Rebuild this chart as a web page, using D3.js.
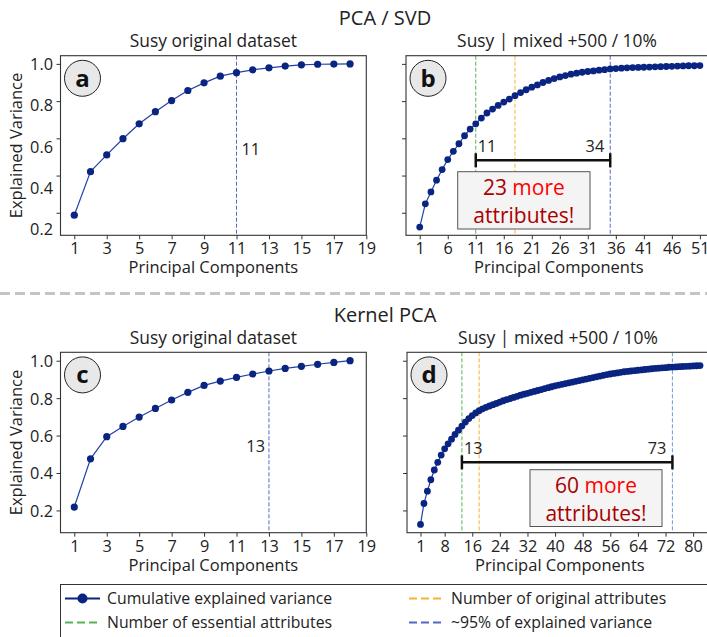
<!DOCTYPE html>
<html>
<head>
<meta charset="utf-8">
<script src="https://cdn.jsdelivr.net/npm/d3@7"></script>
<style>
  body { margin: 0; background: #fff; }
  svg text { font-family: "Open Sans", "DejaVu Sans", sans-serif; fill: #222; }
</style>
</head>
<body>
<div id="chart"></div>
<script>

// cumulative explained variance, one value per principal component
var pcaOriginal = [0.187, 0.421, 0.511, 0.598, 0.678, 0.743, 0.803, 0.857, 0.898, 0.934,
                   0.953, 0.968, 0.979, 0.988, 0.995, 0.998, 0.999, 1.000];

var pcaMixed = [0.123, 0.248, 0.312, 0.375, 0.432, 0.486, 0.530, 0.571, 0.614, 0.650,
                0.678, 0.709, 0.736, 0.757, 0.777, 0.795, 0.811, 0.829, 0.846, 0.861,
                0.875, 0.887, 0.900, 0.911, 0.921, 0.930, 0.937, 0.945, 0.950, 0.955,
                0.959, 0.962, 0.966, 0.969, 0.973, 0.975, 0.977, 0.979, 0.980, 0.981,
                0.982, 0.983, 0.984, 0.985, 0.986, 0.987, 0.988, 0.989, 0.990, 0.990,
                0.991];

var kpcaOriginal = [0.218, 0.476, 0.594, 0.649, 0.699, 0.745, 0.790, 0.831, 0.868, 0.891,
                    0.911, 0.929, 0.945, 0.959, 0.970, 0.981, 0.991, 1.000];

var kpcaMixed = [0.125, 0.237, 0.303, 0.364, 0.416, 0.457, 0.496, 0.529, 0.556, 0.581,
                 0.606, 0.629, 0.651, 0.672, 0.691, 0.707, 0.721, 0.733, 0.743, 0.751,
                 0.758, 0.765, 0.772, 0.779, 0.786, 0.792, 0.798, 0.804, 0.810, 0.816,
                 0.821, 0.826, 0.831, 0.836, 0.841, 0.846, 0.851, 0.856, 0.861, 0.866,
                 0.870, 0.874, 0.878, 0.882, 0.886, 0.890, 0.894, 0.898, 0.902, 0.906,
                 0.910, 0.914, 0.918, 0.922, 0.926, 0.929, 0.932, 0.935, 0.938, 0.941,
                 0.943, 0.945, 0.947, 0.949, 0.951, 0.953, 0.955, 0.957, 0.959, 0.960,
                 0.962, 0.963, 0.965, 0.966, 0.967, 0.968, 0.969, 0.970, 0.971, 0.972,
                 0.973, 0.974];

// tick labels
var yTicks = [0.2, 0.4, 0.6, 0.8, 1.0];
var xTicksOriginal = [1, 3, 5, 7, 9, 11, 13, 15, 17, 19];
var xTicksPcaMixed = [1, 6, 11, 16, 21, 26, 31, 36, 41, 46, 51];
var xTicksKpcaMixed = [1, 8, 16, 24, 32, 40, 48, 56, 64, 72, 80];

// reference lines: essential attributes, original attributes, ~95% variance
var pcaOrigLines = [{x: 11, kind: "p95"}];
var kpcaOrigLines = [{x: 13, kind: "p95"}];
var pcaMixedLines = [{x: 11, kind: "essential"}, {x: 18, kind: "original"}, {x: 35, kind: "p95"}];
var kpcaMixedLines = [{x: 13, kind: "essential"}, {x: 18, kind: "original"}, {x: 74, kind: "p95light"}];

var pcaMixedGap = {from: 11, to: 35, fromLabel: "11", toLabel: "34", count: "23"};
var kpcaMixedGap = {from: 13, to: 74, fromLabel: "13", toLabel: "73", count: "60"};

var legendItems = ["Cumulative explained variance", "Number of original attributes",
                   "Number of essential attributes", "~95% of explained variance"];

var navy = "#0a2481";
var lineColors = {essential: "#55b255", original: "#f9b233", p95: "#5568c0", p95light: "#6a9ed8"};

var svg = d3.select("#chart")
            .append("svg")
            .attr("width", 707)
            .attr("height", 637);

// suptitles and separator
svg.append("text").attr("x", 385).attr("y", 25).attr("text-anchor", "middle")
   .style("font-size", "20px").text("PCA / SVD");
svg.append("line").attr("x1", 0).attr("x2", 707).attr("y1", 293.5).attr("y2", 293.5)
   .attr("stroke", "#c4c4c4").attr("stroke-width", 3).attr("stroke-dasharray", "10,5");
svg.append("text").attr("x", 385).attr("y", 322).attr("text-anchor", "middle")
   .style("font-size", "20px").text("Kernel PCA");

plot_panel({values: pcaOriginal, letter: "a", title: "Susy original dataset",
            left: 60.5, top: 55.7, width: 305.8, height: 179.6,
            xDomain: [0.15, 19.0], yDomain: [0.079, 1.044], xTicks: xTicksOriginal,
            yLabels: true, labelStretch: 1.105, lines: pcaOrigLines, lineLabel: {side: "right", y: 0.51}, r: 3.6});

plot_panel({values: pcaMixed, letter: "b", title: "Susy | mixed +500 / 10%",
            left: 406, top: 55.7, width: 302, height: 179.6,
            xDomain: [-1.45, 52.45], yDomain: [0.079, 1.044], xTicks: xTicksPcaMixed,
            yLabels: false, labelStretch: 1, lines: pcaMixedLines, gap: pcaMixedGap,
            gapY: 0.482, box: {x: 457.7, y: 171.7, w: 132.3, h: 57.3}, r: 3.4});

plot_panel({values: kpcaOriginal, letter: "c", title: "Susy original dataset",
            left: 60.5, top: 352.3, width: 305.8, height: 180.4,
            xDomain: [0.15, 19.0], yDomain: [0.081, 1.045], xTicks: xTicksOriginal,
            yLabels: true, labelStretch: 1, lines: kpcaOrigLines, lineLabel: {side: "left", y: 0.512}, r: 3.6});

plot_panel({values: kpcaMixed, letter: "d", title: "Susy | mixed +500 / 10%",
            left: 407, top: 352.3, width: 302, height: 180.4,
            xDomain: [-2.91, 84.6], yDomain: [0.081, 1.045], xTicks: xTicksKpcaMixed,
            yLabels: false, labelStretch: 1, lines: kpcaMixedLines, gap: kpcaMixedGap,
            gapY: 0.457, box: {x: 530, y: 469.7, w: 132, h: 56.8}, r: 3.4});

draw_legend();


// one subplot: frame, axes, reference lines, the curve and annotations
function plot_panel (cfg) {

    var x = d3.scaleLinear().domain(cfg.xDomain).range([cfg.left, cfg.left + cfg.width]);
    var y = d3.scaleLinear().domain(cfg.yDomain).range([cfg.top + cfg.height, cfg.top]);
    var g = svg.append("g");

    g.append("text")
        .attr("x", cfg.left + cfg.width / 2)
        .attr("y", cfg.top - 8.5)
        .attr("text-anchor", "middle")
        .style("font-size", "17.4px")
        .text(cfg.title);

    // x axis, ticks only (the frame draws the spine)
    var xg = g.append("g")
        .attr("transform", "translate(0," + (cfg.top + cfg.height) + ")")
        .call(d3.axisBottom(x).tickValues(cfg.xTicks).tickSize(4).tickPadding(3.5).tickSizeOuter(0));
    xg.select(".domain").remove();
    xg.selectAll("line").attr("stroke", "#333");
    xg.selectAll("text").style("font-size", "16.3px").style("font-family", "Open Sans").attr("fill", "#222");

    var yaxis = d3.axisLeft(y).tickValues(yTicks).tickSize(4).tickPadding(3.5).tickSizeOuter(0);
    if (!cfg.yLabels) yaxis.tickFormat("");
    else yaxis.tickFormat(d3.format(".1f"));
    var yg = g.append("g")
        .attr("transform", "translate(" + cfg.left + ",0)")
        .call(yaxis);
    yg.select(".domain").remove();
    yg.selectAll("line").attr("stroke", "#333");
    yg.selectAll("text").style("font-size", "16.3px").style("font-family", "Open Sans").attr("fill", "#222")
        .attr("dy", "0.36em")
        .attr("y", function(d) { return (cfg.labelStretch - 1) * (y(d) - y(1.0)); });

    if (cfg.yLabels) {
        g.append("text")
            .attr("transform", "translate(21.5," + (cfg.top + cfg.height / 2) + ") rotate(-90)")
            .attr("text-anchor", "middle")
            .style("font-size", "16.5px")
            .text("Explained Variance");
    }
    g.append("text")
        .attr("x", cfg.left + 152.9)
        .attr("y", cfg.top + cfg.height + 38)
        .attr("text-anchor", "middle")
        .style("font-size", "16.5px")
        .text("Principal Components");

    // dashed reference lines
    g.selectAll(".vline")
        .data(cfg.lines)
      .enter().append("line")
        .attr("x1", function(d) { return x(d.x); })
        .attr("x2", function(d) { return x(d.x); })
        .attr("y1", cfg.top)
        .attr("y2", cfg.top + cfg.height)
        .attr("stroke", function(d) { return lineColors[d.kind]; })
        .attr("stroke-width", 1)
        .attr("stroke-dasharray", "4,2");

    if (cfg.lineLabel) {
        var lx = cfg.lines[0].x;
        g.append("text")
            .attr("x", x(lx) + (cfg.lineLabel.side == "right" ? 5 : -4))
            .attr("y", y(cfg.lineLabel.y))
            .attr("text-anchor", cfg.lineLabel.side == "right" ? "start" : "end")
            .style("font-size", "16.3px")
            .text(lx);
    }

    // curve
    var pts = cfg.values.map(function(v, i) { return [i + 1, v]; });
    g.append("path")
        .datum(pts)
        .attr("fill", "none")
        .attr("stroke", "#2440a8")
        .attr("stroke-width", 1.2)
        .attr("d", d3.line().x(function(d) { return x(d[0]); }).y(function(d) { return y(d[1]); }));
    g.selectAll(".dot")
        .data(pts)
      .enter().append("circle")
        .attr("cx", function(d) { return x(d[0]); })
        .attr("cy", function(d) { return y(d[1]); })
        .attr("r", cfg.r)
        .attr("fill", navy);

    // gap bracket and callout
    if (cfg.gap) {
        var by = y(cfg.gapY);
        var x1 = x(cfg.gap.from), x2 = x(cfg.gap.to);
        g.append("line").attr("x1", x1).attr("x2", x2).attr("y1", by).attr("y2", by)
            .attr("stroke", "#111").attr("stroke-width", 2.5);
        [x1, x2].forEach(function(cx) {
            g.append("line").attr("x1", cx).attr("x2", cx).attr("y1", by - 7).attr("y2", by + 7)
                .attr("stroke", "#111").attr("stroke-width", 2.5);
        });
        g.append("text").attr("x", x1 + 2).attr("y", by - 8.5).style("font-size", "16.3px").text(cfg.gap.fromLabel);
        g.append("text").attr("x", x2 - 6).attr("y", by - 8.5).attr("text-anchor", "end")
            .style("font-size", "16.3px").text(cfg.gap.toLabel);

        var b = cfg.box;
        g.append("rect").attr("x", b.x).attr("y", b.y).attr("width", b.w).attr("height", b.h)
            .attr("fill", "#f4f4f4").attr("stroke", "#555").attr("stroke-width", 1);
        var t1 = g.append("text").attr("x", b.x + b.w / 2).attr("y", b.y + 23.5)
            .attr("text-anchor", "middle").style("font-size", "21px");
        t1.append("tspan").style("fill", "#a80000").text(cfg.gap.count + " ");
        t1.append("tspan").style("fill", "#ff0000").text("more");
        g.append("text").attr("x", b.x + b.w / 2).attr("y", b.y + 51)
            .attr("text-anchor", "middle").style("font-size", "21px")
            .style("fill", "#a80000").text("attributes!");
    }

    // panel letter
    g.append("circle")
        .attr("cx", cfg.left + 22).attr("cy", cfg.top + 22.6).attr("r", 18)
        .attr("fill", "#e8e8e8").attr("stroke", "#222").attr("stroke-width", 1);
    g.append("text")
        .attr("x", cfg.left + 22).attr("y", cfg.top + 31)
        .attr("text-anchor", "middle")
        .style("font-size", "24px").style("font-weight", "bold").style("fill", "#111")
        .text(cfg.letter);

    // frame
    g.append("rect")
        .attr("x", cfg.left).attr("y", cfg.top)
        .attr("width", cfg.width).attr("height", cfg.height)
        .attr("fill", "none").attr("stroke", "#333").attr("stroke-width", 1.1);
}


function draw_legend () {
    var lg = svg.append("g");
    lg.append("rect").attr("x", 60.5).attr("y", 584.5).attr("width", 700).attr("height", 80)
        .attr("fill", "#fff").attr("stroke", "#333").attr("stroke-width", 1);

    var cols = [65, 409], rows = [598.5, 622.5];
    var kinds = ["curve", "original", "essential", "p95"];
    legendItems.forEach(function(label, i) {
        var lx = cols[i % 2], ly = rows[Math.floor(i / 2)];
        var k = kinds[i];
        if (k == "curve") {
            lg.append("line").attr("x1", lx).attr("x2", lx + 35).attr("y1", ly).attr("y2", ly)
                .attr("stroke", navy).attr("stroke-width", 2);
            lg.append("circle").attr("cx", lx + 17.5).attr("cy", ly).attr("r", 5).attr("fill", navy);
        } else {
            lg.append("line").attr("x1", lx).attr("x2", lx + 35).attr("y1", ly).attr("y2", ly)
                .attr("stroke", lineColors[k]).attr("stroke-width", 2.2).attr("stroke-dasharray", "8,4");
        }
        lg.append("text").attr("x", lx + 42).attr("y", ly + 5.3)
            .style("font-size", "15.8px").text(label);
    });
}
</script>
</body>
</html>
